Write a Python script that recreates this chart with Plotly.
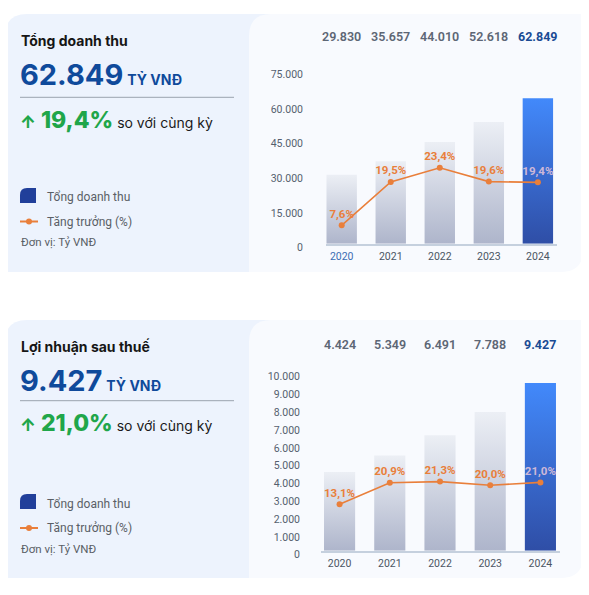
import plotly.graph_objects as go

# ---- data ----
years = ["2020", "2021", "2022", "2023", "2024"]
revenue = [29830, 35657, 44010, 52618, 62849]
revenue_growth = [7.6, 19.5, 23.4, 19.6, 19.4]
profit = [4424, 5349, 6491, 7788, 9427]
profit_growth = [13.1, 20.9, 21.3, 20.0, 21.0]

revenue_ticks = [0, 15000, 30000, 45000, 60000, 75000]
profit_ticks = [0, 1000, 2000, 3000, 4000, 5000, 6000, 7000, 8000, 9000, 10000]

W, H = 589, 595
OFF_X, OFF_Y = 8, 8   # page body margin
FONT = "Inter"
SMALL = "Roboto"
ORANGE = "#e97f3b"
GREEN = "#1fa64a"
NAVY = "#0f4a9b"


def px(x):
    return (x - OFF_X) / W


def py(y):
    return 1 - (y - OFF_Y) / H


def vn(v):
    return f"{v:,}".replace(",", ".")


def pct(v):
    return f"{v:.1f}".replace(".", ",") + "%"


def rounded(x0, y0, x1, y1, tl=0, tr=0, br=0, bl=0):
    pts = [
        ("M", [(x0 + tl, y0)]),
        ("L", [(x1 - tr, y0)]),
        ("Q", [(x1, y0), (x1, y0 + tr)]),
        ("L", [(x1, y1 - br)]),
        ("Q", [(x1, y1), (x1 - br, y1)]),
        ("L", [(x0 + bl, y1)]),
        ("Q", [(x0, y1), (x0, y1 - bl)]),
        ("L", [(x0, y0 + tl)]),
        ("Q", [(x0, y0), (x0 + tl, y0)]),
    ]
    s = ""
    for cmd, ps in pts:
        s += cmd + " " + " ".join(f"{px(a):.5f},{py(b):.5f}" for a, b in ps) + " "
    return s + "Z"


def note(x, y, text, font, xref="paper", xanchor="left"):
    return dict(x=x, y=py(y), xref=xref, yref="paper", xanchor=xanchor, yanchor="middle",
                text=text, showarrow=False, font=font)


cards = [
    dict(title="Tổng doanh thu", values=revenue, growth=revenue_growth, ticks=revenue_ticks,
         top=14, bottom=272, t_title=40, t_big=74, t_sep=97.3, t_green=120,
         t_icon=(188, 203), t_leg1=197, t_leg2=221.5, t_unit=242,
         vals_y=36, base=243.7, ytop=70.2, xdom=(326, 557), xr=(-0.32, 4.39),
         y2r=(2.55, 50.2), tick_r=303, first_blue=True),
    dict(title="Lợi nhuận sau thuế", values=profit, growth=profit_growth, ticks=profit_ticks,
         top=320, bottom=578, t_title=346.7, t_big=380, t_sep=400.7, t_green=423,
         t_icon=(494, 509), t_leg1=504, t_leg2=528, t_unit=549,
         vals_y=344.3, base=550.7, ytop=372.7, xdom=(321, 560), xr=(-0.37, 4.39),
         y2r=(-3.65, 60.6), tick_r=300, first_blue=False),
]

fig = go.Figure()
shapes = []
annotations = []
layout_axes = {}
half = 0.31

for k, c in enumerate(cards):
    xa = "x" if k == 0 else "x2"
    ya = "y" if k == 0 else "y3"
    ya2 = "y2" if k == 0 else "y4"
    last = len(years) - 1

    # card backgrounds
    shapes.append(dict(type="path", xref="paper", yref="paper", layer="below",
                       path=rounded(5, c["top"], 280, c["bottom"], tl=22),
                       fillcolor="#edf3fd", line=dict(width=0)))
    shapes.append(dict(type="path", xref="paper", yref="paper", layer="below",
                       path=rounded(249, c["top"], 583, c["bottom"], tl=22, br=22),
                       fillcolor="#f8fafe", line=dict(width=0)))

    # bars with vertical gradient
    for i, v in enumerate(c["values"]):
        if i == last:
            cs = [[0, "#2f4ea6"], [1, "#4289fb"]]
        else:
            cs = [[0, "#aeb5cb"], [1, "#eceff5"]]
        fig.add_trace(go.Scatter(
            x=[i - half, i - half, i + half, i + half, i - half],
            y=[0, v, v, 0, 0], xaxis=xa, yaxis=ya,
            mode="lines", fill="toself", line=dict(width=0, color="rgba(0,0,0,0)"),
            fillgradient=dict(type="vertical", colorscale=cs, start=0, stop=v),
            hoverinfo="skip", showlegend=False))

    # growth line
    text_colors = [ORANGE] * last + ["#cdb8d8"]
    fig.add_trace(go.Scatter(
        x=list(range(len(years))), y=c["growth"], xaxis=xa, yaxis=ya2,
        mode="lines+markers+text", line=dict(color=ORANGE, width=1.6),
        marker=dict(color=ORANGE, size=6),
        text=[pct(g) for g in c["growth"]], textposition="top center",
        textfont=dict(family=SMALL, size=11.5, color=text_colors, weight="bold"),
        cliponaxis=False, showlegend=False))

    # value labels above chart
    for i, v in enumerate(c["values"]):
        annotations.append(note(
            i, c["vals_y"], vn(v),
            dict(family=SMALL, size=12.5, weight=700 if i == last else 600,
                 color="#1a4b94" if i == last else "#5d6675"),
            xref=xa, xanchor="center"))

    ticktext = []
    for i, yr in enumerate(years):
        col = "#3c6db3" if (i == 0 and c["first_blue"]) else "#4b5563"
        ticktext.append(f"<span style='color:{col}'>{yr}</span>")

    xkey = "xaxis" if k == 0 else "xaxis2"
    ykey = "yaxis" if k == 0 else "yaxis3"
    y2key = "yaxis2" if k == 0 else "yaxis4"
    layout_axes[xkey] = dict(
        domain=[px(c["xdom"][0]), px(c["xdom"][1])], range=list(c["xr"]),
        anchor=ya, tickvals=list(range(len(years))), ticktext=ticktext,
        showline=True, linecolor="#c5d0de", linewidth=2, showgrid=False, zeroline=False,
        ticks="", ticklabelstandoff=2, automargin=False,
        tickfont=dict(family=SMALL, size=10.5, color="#4b5563"), fixedrange=True)
    layout_axes[ykey] = dict(
        domain=[py(c["base"]), py(c["ytop"])], range=[0, c["ticks"][-1]],
        anchor=xa, tickvals=c["ticks"], tickformat=",d", showgrid=False, zeroline=False,
        showline=False, ticks="", ticklabelshift=4, automargin=False,
        ticklabelstandoff=c["xdom"][0] - c["tick_r"] - 1,
        tickfont=dict(family=SMALL, size=10.5, color="#555f6e"), fixedrange=True)
    layout_axes[y2key] = dict(
        overlaying=ya, range=list(c["y2r"]), visible=False, fixedrange=True,
        automargin=False)

    # left panel texts
    annotations.append(note(px(19), c["t_title"], f"<b>{c['title']}</b>",
                            dict(family=FONT, size=14, color="#161616")))
    annotations.append(note(
        px(18), c["t_big"],
        f"<b>{vn(c['values'][-1])}</b><span style='font-size:14px'> <b>TỶ VNĐ</b></span>",
        dict(family=FONT, size=29, color=NAVY)))
    shapes.append(dict(type="line", xref="paper", yref="paper",
                       x0=px(20), x1=px(234), y0=py(c["t_sep"]), y1=py(c["t_sep"]),
                       line=dict(color="#9aa3ae", width=1)))
    annotations.append(note(
        px(18), c["t_green"],
        (f"<span style='font-size:17px'>↑</span> {pct(c['growth'][-1])}"
         f"<span style='font-size:14px;color:#1a1a1a;font-weight:400'> so với cùng kỳ</span>"),
        dict(family=FONT, size=23, color=GREEN, weight=800)))

    # legend
    i0, i1 = c["t_icon"]
    shapes.append(dict(type="path", xref="paper", yref="paper",
                       path=rounded(20, i0, 36, i1, tl=7),
                       fillcolor="#213f9a", line=dict(width=0)))
    ly = c["t_leg2"]
    shapes.append(dict(type="line", xref="paper", yref="paper",
                       x0=px(20), x1=px(38), y0=py(ly), y1=py(ly),
                       line=dict(color=ORANGE, width=2)))
    shapes.append(dict(type="circle", xref="paper", yref="paper",
                       x0=px(26), x1=px(32), y0=py(ly - 3), y1=py(ly + 3),
                       fillcolor=ORANGE, line=dict(width=0)))
    leg_font = dict(family=SMALL, size=12, color="#5a5f66")
    annotations.append(note(px(45), c["t_leg1"], "Tổng doanh thu", leg_font))
    annotations.append(note(px(45), c["t_leg2"], "Tăng trưởng (%)", leg_font))
    annotations.append(note(px(19), c["t_unit"], "Đơn vị: Tỷ VNĐ",
                            dict(family=SMALL, size=11.5, color="#5a5f66")))

fig.update_layout(
    width=W, height=H, margin=dict(l=0, r=0, t=0, b=0, pad=0),
    paper_bgcolor="white", plot_bgcolor="rgba(0,0,0,0)",
    separators=",.", showlegend=False,
    font=dict(family=FONT),
    shapes=shapes, annotations=annotations,
    **layout_axes,
)

fig.write_html("out.html")
